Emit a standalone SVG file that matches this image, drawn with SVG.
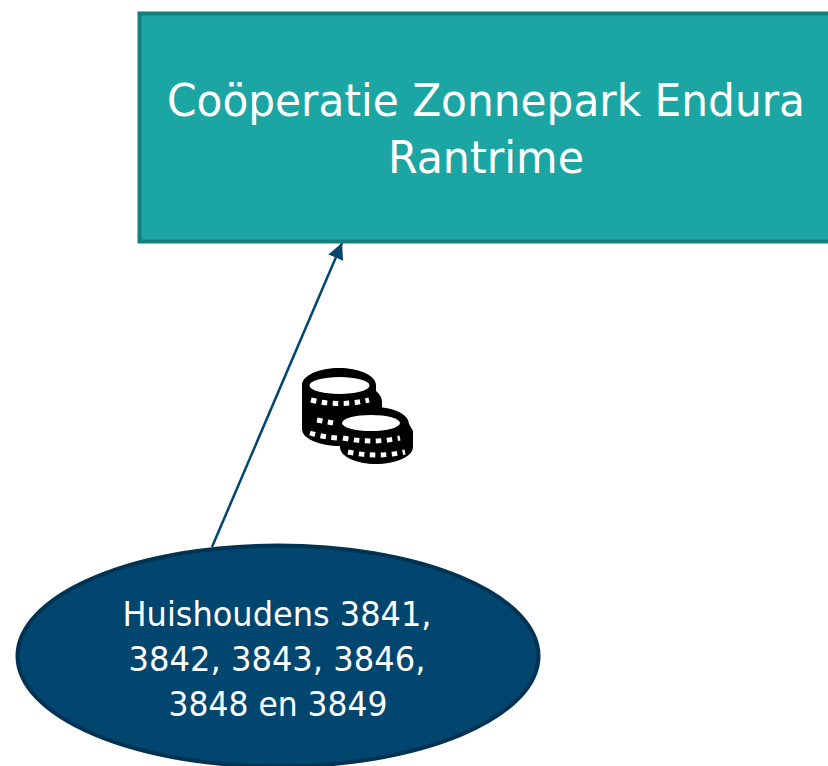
<svg xmlns="http://www.w3.org/2000/svg" width="828" height="766" viewBox="0 0 828 766">
<defs>
<marker id="arrow" markerUnits="userSpaceOnUse" markerWidth="18" markerHeight="18" refX="16" refY="8" orient="auto"><path d="M0 0L16 8L0 16Z" fill="#004670"/></marker>
</defs>
<style>
text{font-family:"DejaVu Sans Condensed","DejaVu Sans","Noto Sans",sans-serif;fill:#fff;text-anchor:middle}
.big{font-size:45px}
.small{font-size:34px}
.dash{fill:none;stroke:#fff;stroke-width:5;stroke-dasharray:5.5 5.5}
</style>
<rect width="828" height="766" fill="#fff"/>
<g id="connectors">
<line x1="212" y1="547" x2="342" y2="243" stroke="#004670" stroke-width="2.5" marker-end="url(#arrow)"/>
</g>
<g id="node-cooperatie">
<rect x="139.500" y="13.500" width="700" height="228" fill="#1ca6a3" stroke="#14807e" stroke-width="4"/>
<text class="big" x="486" y="116" textLength="638" lengthAdjust="spacingAndGlyphs">Coöperatie Zonnepark Endura</text>
<text class="big" x="486" y="173" textLength="196" lengthAdjust="spacingAndGlyphs">Rantrime</text>
</g>
<g id="node-huishoudens">
<ellipse cx="278" cy="656" rx="260.500" ry="110.500" fill="#00466e" stroke="#003254" stroke-width="4"/>
<text class="small" x="277" y="626" textLength="309" lengthAdjust="spacingAndGlyphs">Huishoudens 3841,</text>
<text class="small" x="277" y="671" textLength="297" lengthAdjust="spacingAndGlyphs">3842, 3843, 3846,</text>
<text class="small" x="278" y="716" textLength="219" lengthAdjust="spacingAndGlyphs">3848 en 3849</text>
</g>
<g id="coins">
<path d="M302 385C302 375 320 368 339 368C358 368 376 375 376 385L376 391C380 394 382 398 382 402L382 412L340 446C320 446 302 439 302 429L302 385Z" fill="#000"/>
<ellipse cx="339.500" cy="385.500" rx="30" ry="8.500" fill="#fff"/>
<path class="dash" d="M311 400Q339 407 369 400"/>
<path class="dash" d="M317 420L333 423"/>
<path class="dash" d="M310 433Q322 437 338 438"/>
<path d="M339 424C339 414 355 407 374 407C393 407 409 414 409 424L413 431L413 447C413 457 395 464 376 464C357 464 340 457 340 447L338 431Z" fill="#000"/>
<ellipse cx="371" cy="423" rx="29" ry="8" fill="#fff"/>
<path class="dash" d="M343 438Q371 444 400 438"/>
<path class="dash" d="M348 452Q376 458 405 452"/>
</g>
</svg>
